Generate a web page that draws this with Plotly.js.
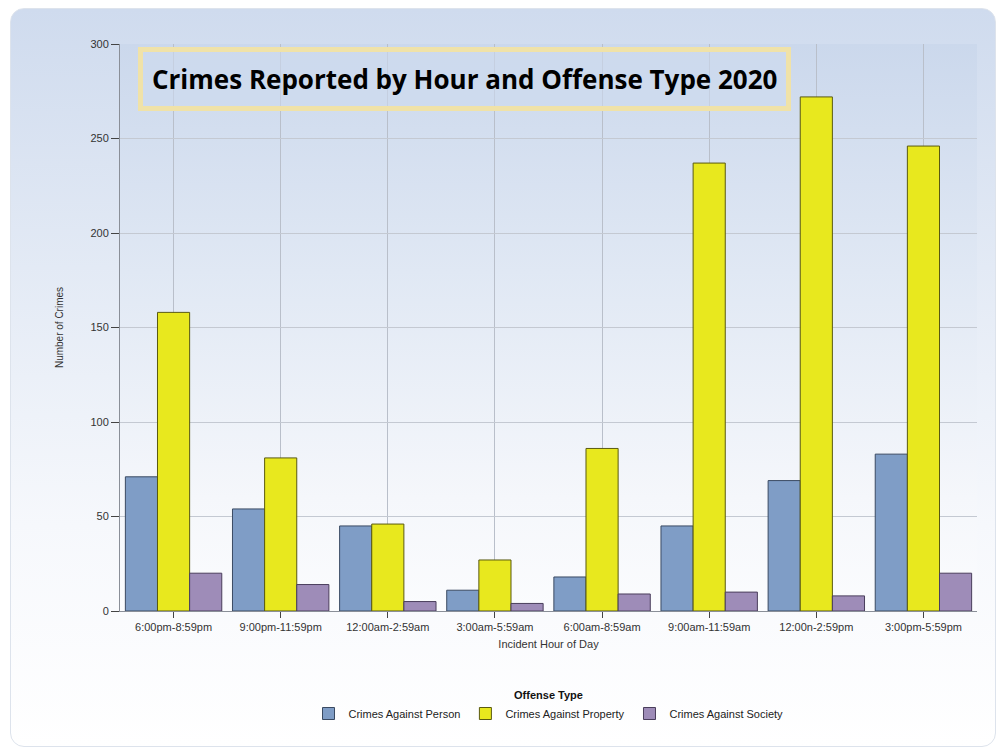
<!DOCTYPE html>
<html>
<head>
<meta charset="utf-8">
<script src="https://cdn.plot.ly/plotly-3.0.1.min.js"></script>
<style>
  html, body { margin: 0; padding: 0; background: #ffffff; }
  #wrap { position: relative; width: 1001px; height: 752px; overflow: hidden; background: #ffffff; }
  #panel { position: absolute; left: 10px; top: 8px; width: 984px; height: 737px;
           border-radius: 14px; border: 1px solid #dde3ec;
           background: linear-gradient(to bottom, #cfdbee 0%, #e3eaf5 35%, #f6f8fc 70%, #ffffff 100%); }
  #plotbg { position: absolute; left: 120px; top: 44px; width: 857px; height: 567px;
            background: linear-gradient(to bottom, #cbd8ec 0%, #e0e8f4 40%, #f5f7fb 80%, #fbfcfe 100%); }
  #chart { position: absolute; left: 0; top: 0; width: 1001px; height: 752px; }
</style>
</head>
<body>
<div id="wrap">
  <div id="panel"></div>
  <div id="plotbg"></div>
  <div id="chart"></div>
</div>
<script>
const categories = ["6:00pm-8:59pm", "9:00pm-11:59pm", "12:00am-2:59am", "3:00am-5:59am",
                    "6:00am-8:59am", "9:00am-11:59am", "12:00n-2:59pm", "3:00pm-5:59pm"];
const seriesNames = ["Crimes Against Person", "Crimes Against Property", "Crimes Against Society"];
const person   = [71, 54, 45, 11, 18, 45, 69, 83];
const property = [158, 81, 46, 27, 86, 237, 272, 246];
const society  = [20, 14, 5, 4, 9, 10, 8, 20];
const yTicks = [0, 50, 100, 150, 200, 250, 300];

const colors = ["#7f9dc6", "#e8e81e", "#9e8cb8"];
const lines  = ["#3a4a62", "#5a5a10", "#4a3e5c"];
const values = [person, property, society];

const traces = values.map((v, i) => ({
  type: "bar",
  name: seriesNames[i],
  x: categories,
  y: v,
  marker: { color: colors[i], line: { color: lines[i], width: 1 } },
  hoverinfo: "x+y+name"
}));

const axisFont = { family: "Liberation Sans, Arial, sans-serif", size: 11, color: "#333333" };

const layout = {
  width: 1001, height: 752,
  margin: { l: 120, r: 24, t: 44, b: 141 },
  paper_bgcolor: "rgba(0,0,0,0)",
  plot_bgcolor: "rgba(0,0,0,0)",
  barmode: "group",
  bargap: 0.1,
  bargroupgap: 0,
  showlegend: true,
  xaxis: {
    type: "category",
    range: [-0.5, 7.5],
    showgrid: true, gridcolor: "#b9bfca", gridwidth: 1,
    showline: true, linecolor: "#8a8f98", linewidth: 1,
    ticks: "outside", ticklen: 6, tickcolor: "#444444",
    tickfont: axisFont,
    title: { text: "Incident Hour of Day", font: axisFont, standoff: 8 },
    fixedrange: true
  },
  yaxis: {
    range: [0, 300],
    tickvals: yTicks,
    ticktext: yTicks.map(String),
    showgrid: true, gridcolor: "#c4c9d2", gridwidth: 1,
    showline: true, linecolor: "#8a8f98", linewidth: 1,
    ticks: "outside", ticklen: 8, tickcolor: "#444444",
    tickfont: axisFont,
    zeroline: false,
    title: { text: "Number of Crimes", font: { family: "Liberation Sans, Arial, sans-serif", size: 10, color: "#333333" }, standoff: 24 },
    fixedrange: true
  },
  legend: {
    orientation: "h",
    x: 0.5, xanchor: "center", xref: "paper",
    y: -0.13, yanchor: "top",
    font: { family: "Liberation Sans, Arial, sans-serif", size: 11, color: "#222222" },
    title: { text: "<b>Offense Type</b>", side: "top center",
             font: { family: "Liberation Sans, Arial, sans-serif", size: 11, color: "#111111" } },
    bgcolor: "rgba(0,0,0,0)",
    itemwidth: 30,
    tracegroupgap: 0
  },
  annotations: [{
    xref: "paper", yref: "paper",
    x: 0.0205, y: 0.994, xanchor: "left", yanchor: "top",
    text: "<b>Crimes Reported by Hour and Offense Type 2020</b>",
    showarrow: false,
    font: { family: "Open Sans, Noto Sans, sans-serif", size: 26, color: "#000000" },
    bordercolor: "#f0e2a8", borderwidth: 5, borderpad: 9,
    bgcolor: "rgba(205,218,238,0.6)"
  }]
};

Plotly.newPlot("chart", traces, layout, { displayModeBar: false, staticPlot: true });
</script>
</body>
</html>
